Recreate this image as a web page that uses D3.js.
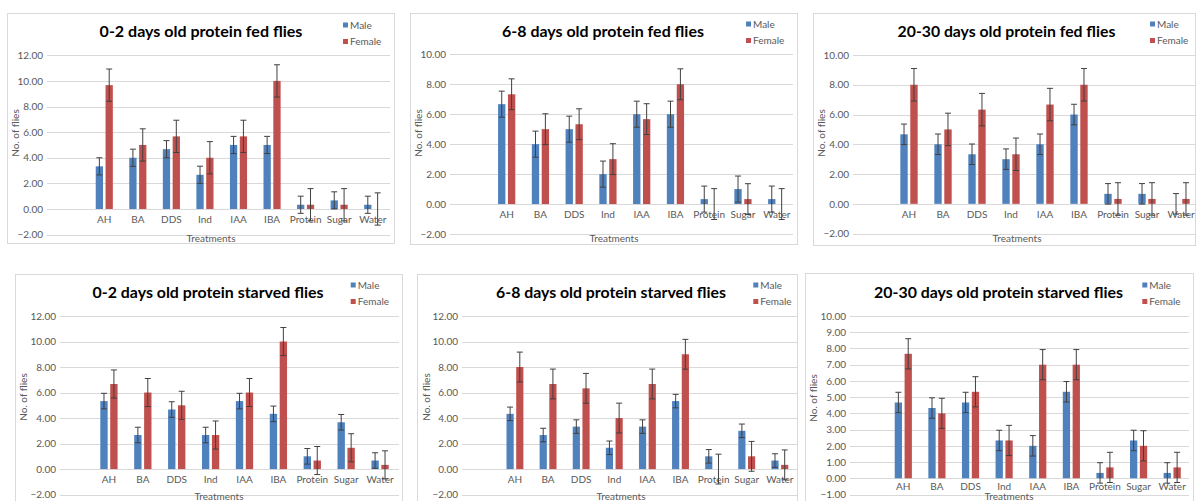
<!DOCTYPE html>
<html>
<head>
<meta charset="utf-8">
<script src="https://cdn.jsdelivr.net/npm/d3@7"></script>
<style>
  html, body { margin: 0; padding: 0; background: #ffffff; }
  svg { display: block; }
</style>
</head>
<body>
<svg id="chart" width="1200" height="501"></svg>
<script>
// ---------------- DATA ----------------
const categories = ["AH", "BA", "DDS", "Ind", "IAA", "IBA", "Protein", "Sugar", "Water"];
const seriesNames = ["Male", "Female"];

const chartTitles = [
  "0-2 days old protein fed flies",
  "6-8 days old protein fed flies",
  "20-30 days old protein fed flies",
  "0-2 days old protein starved flies",
  "6-8 days old protein starved flies",
  "20-30 days old protein starved flies"
];
const yAxisTitle = "No. of flies";
const xAxisTitle = "Treatments";

// y tick values (labels shown with two decimals)
const yTicksTo12 = [-2, 0, 2, 4, 6, 8, 10, 12];
const yTicksTo10 = [-2, 0, 2, 4, 6, 8, 10];
const yTicksBy1 = [-1, 0, 1, 2, 3, 4, 5, 6, 7, 8, 9, 10];

// 0-2 days old protein fed flies
const fed02Male        = [3.33, 4.00, 4.67, 2.67, 5.00, 5.00, 0.33, 0.67, 0.33];
const fed02Female      = [9.67, 5.00, 5.67, 4.00, 5.67, 10.00, 0.33, 0.33, 0.00];
const fed02MaleErr     = [0.67, 0.67, 0.67, 0.67, 0.67, 0.67, 0.67, 0.67, 0.67];
const fed02FemaleErr   = [1.26, 1.26, 1.26, 1.26, 1.26, 1.26, 1.26, 1.26, 1.26];

// 6-8 days old protein fed flies
const fed68Male        = [6.67, 4.00, 5.00, 2.00, 6.00, 6.00, 0.33, 1.00, 0.33];
const fed68Female      = [7.33, 5.00, 5.33, 3.00, 5.67, 8.00, 0.00, 0.33, 0.00];
const fed68MaleErr     = [0.87, 0.87, 0.87, 0.87, 0.87, 0.87, 0.87, 0.87, 0.87];
const fed68FemaleErr   = [1.03, 1.03, 1.03, 1.03, 1.03, 1.03, 1.03, 1.03, 1.03];

// 20-30 days old protein fed flies
const fed2030Male      = [4.67, 4.00, 3.33, 3.00, 4.00, 6.00, 0.67, 0.67, 0.00];
const fed2030Female    = [8.00, 5.00, 6.33, 3.33, 6.67, 8.00, 0.33, 0.33, 0.33];
const fed2030MaleErr   = [0.69, 0.69, 0.69, 0.69, 0.69, 0.69, 0.69, 0.69, 0.69];
const fed2030FemaleErr = [1.09, 1.09, 1.09, 1.09, 1.09, 1.09, 1.09, 1.09, 1.09];

// 0-2 days old protein starved flies
const st02Male         = [5.33, 2.67, 4.67, 2.67, 5.33, 4.33, 1.00, 3.67, 0.67];
const st02Female       = [6.67, 6.00, 5.00, 2.67, 6.00, 10.00, 0.67, 1.67, 0.33];
const st02MaleErr      = [0.61, 0.61, 0.61, 0.61, 0.61, 0.61, 0.61, 0.61, 0.61];
const st02FemaleErr    = [1.10, 1.10, 1.10, 1.10, 1.10, 1.10, 1.10, 1.10, 1.10];

// 6-8 days old protein starved flies
const st68Male         = [4.33, 2.67, 3.33, 1.67, 3.33, 5.33, 1.00, 3.00, 0.67];
const st68Female       = [8.00, 6.67, 6.33, 4.00, 6.67, 9.00, 0.00, 1.00, 0.33];
const st68MaleErr      = [0.53, 0.53, 0.53, 0.53, 0.53, 0.53, 0.53, 0.53, 0.53];
const st68FemaleErr    = [1.17, 1.17, 1.17, 1.17, 1.17, 1.17, 1.17, 1.17, 1.17];

// 20-30 days old protein starved flies
const st2030Male       = [4.67, 4.33, 4.67, 2.33, 2.00, 5.33, 0.33, 2.33, 0.33];
const st2030Female     = [7.67, 4.00, 5.33, 2.33, 7.00, 7.00, 0.67, 2.00, 0.67];
const st2030MaleErr    = [0.63, 0.63, 0.63, 0.63, 0.63, 0.63, 0.63, 0.63, 0.63];
const st2030FemaleErr  = [0.93, 0.93, 0.93, 0.93, 0.93, 0.93, 0.93, 0.93, 0.93];

// ---------------- LAYOUT / STYLE ----------------
const COLORS = { Male: "#4f81bd", Female: "#c0504d" };
const FONT = "Lato, 'Open Sans', 'Liberation Sans', sans-serif";
const TEXT_GRAY = "#595959";
const GRID = "#d9d9d9";
const ERR = "#404040";

const panels = [
  { title: chartTitles[0], male: fed02Male, female: fed02Female, maleErr: fed02MaleErr, femaleErr: fed02FemaleErr,
    ticks: yTicksTo12, frame: [7, 13, 394, 243], grid: [47, 390], xr: [87.5, 389.5], y: [-2, 12, 234.6, 55.3], catPad: 7,
    titleX: 201, titleY: 37, titleW: 203, legX: 343, legY: 25, yTitleX: 19, yTitleY: 133, xTitleX: 211, xTitleY: 242 },
  { title: chartTitles[1], male: fed68Male, female: fed68Female, maleErr: fed68MaleErr, femaleErr: fed68FemaleErr,
    ticks: yTicksTo10, frame: [410, 13, 797, 244], grid: [450, 793], xr: [489.8, 793.6], y: [-2, 10, 234, 54.3], catPad: 7,
    titleX: 603, titleY: 37, titleW: 202, legX: 746, legY: 24, yTitleX: 422, yTitleY: 133, xTitleX: 614, xTitleY: 242 },
  { title: chartTitles[2], male: fed2030Male, female: fed2030Female, maleErr: fed2030MaleErr, femaleErr: fed2030FemaleErr,
    ticks: yTicksTo10, frame: [813, 13, 1195, 245], grid: [853, 1196], xr: [892, 1198], y: [-2, 10, 233.6, 55], catPad: 7,
    titleX: 1006.5, titleY: 37, titleW: 218, legX: 1150, legY: 24, yTitleX: 825, yTitleY: 133, xTitleX: 1017, xTitleY: 242 },
  { title: chartTitles[3], male: st02Male, female: st02Female, maleErr: st02MaleErr, femaleErr: st02FemaleErr,
    ticks: yTicksTo12, frame: [15, 274, 402, 530], grid: [60, 399], xr: [92, 397], y: [-2, 12, 494.6, 316], catPad: 7,
    titleX: 208, titleY: 298, titleW: 231, legX: 350.7, legY: 285, yTitleX: 27, yTitleY: 397, xTitleX: 219, xTitleY: 499.5 },
  { title: chartTitles[4], male: st68Male, female: st68Female, maleErr: st68MaleErr, femaleErr: st68FemaleErr,
    ticks: yTicksTo12, frame: [417, 274, 797, 530], grid: [462, 797], xr: [498.4, 796.4], y: [-2, 12, 494.6, 316], catPad: 7,
    titleX: 611, titleY: 298, titleW: 230, legX: 753.3, legY: 285, yTitleX: 430, yTitleY: 397, xTitleX: 621, xTitleY: 499.5 },
  { title: chartTitles[5], male: st2030Male, female: st2030Female, maleErr: st2030MaleErr, femaleErr: st2030FemaleErr,
    ticks: yTicksBy1, frame: [805, 273, 1193, 530], grid: [850, 1189], xr: [886.5, 1189], y: [-1, 10, 494.5, 316], catPad: 4.5,
    titleX: 998.5, titleY: 298, titleW: 249, legX: 1142.3, legY: 285, yTitleX: 817, yTitleY: 398, xTitleX: 1009, xTitleY: 500 }
];

const svg = d3.select("#chart");

panels.forEach(p => {
  const g = svg.append("g");

  // frame
  g.append("rect")
    .attr("x", p.frame[0] + 0.5).attr("y", p.frame[1] + 0.5)
    .attr("width", p.frame[2] - p.frame[0]).attr("height", p.frame[3] - p.frame[1])
    .attr("fill", "#ffffff").attr("stroke", GRID).attr("stroke-width", 1);

  const y = d3.scaleLinear().domain([p.y[0], p.y[1]]).range([p.y[2], p.y[3]]);
  const x = d3.scaleBand().domain(categories).range(p.xr).paddingInner(0.49).paddingOuter(0.245);
  const xs = d3.scaleBand().domain(seriesNames).range([0, x.bandwidth()]).paddingInner(0.26);

  // gridlines + y labels via axis
  const yAxis = d3.axisLeft(y).tickValues(p.ticks).tickFormat(d3.format(".2f"))
    .tickSize(-(p.grid[1] - p.grid[0])).tickPadding(5);
  const ya = g.append("g").attr("transform", `translate(${p.grid[0]},0)`).call(yAxis);
  ya.select(".domain").remove();
  ya.selectAll(".tick line").attr("stroke", GRID).attr("stroke-width", 1)
    .attr("shape-rendering", "crispEdges");
  ya.selectAll(".tick text").attr("fill", TEXT_GRAY).attr("font-family", FONT).attr("font-size", 10)
    .attr("dx", 1);

  // category labels (just below the zero line)
  const xAxis = d3.axisBottom(x).tickSize(0).tickPadding(p.catPad);
  const xa = g.append("g").attr("transform", `translate(0,${y(0)})`).call(xAxis);
  xa.select(".domain").remove();
  xa.selectAll(".tick text").attr("fill", TEXT_GRAY).attr("font-family", FONT).attr("font-size", 10);

  // bars
  const rows = categories.map((c, i) => ({
    cat: c,
    vals: [
      { s: "Male", v: p.male[i], e: p.maleErr[i] },
      { s: "Female", v: p.female[i], e: p.femaleErr[i] }
    ]
  }));
  const grp = g.selectAll("g.cat").data(rows).join("g").attr("class", "cat")
    .attr("transform", d => `translate(${x(d.cat)},0)`);
  grp.selectAll("rect").data(d => d.vals).join("rect")
    .attr("x", d => xs(d.s)).attr("width", xs.bandwidth())
    .attr("y", d => Math.min(y(d.v), y(0)))
    .attr("height", d => Math.abs(y(0) - y(d.v)))
    .attr("fill", d => COLORS[d.s]);

  // error bars
  const eb = grp.selectAll("g.err").data(d => d.vals).join("g").attr("class", "err")
    .attr("stroke", ERR).attr("stroke-width", 1).attr("fill", "none");
  const cx = d => xs(d.s) + xs.bandwidth() / 2;
  eb.append("line").attr("x1", cx).attr("x2", cx)
    .attr("y1", d => y(d.v - d.e)).attr("y2", d => y(d.v + d.e));
  eb.append("line").attr("x1", d => cx(d) - 3).attr("x2", d => cx(d) + 3)
    .attr("y1", d => y(d.v + d.e)).attr("y2", d => y(d.v + d.e));
  eb.append("line").attr("x1", d => cx(d) - 3).attr("x2", d => cx(d) + 3)
    .attr("y1", d => y(d.v - d.e)).attr("y2", d => y(d.v - d.e));

  // title (fit to measured width)
  const t = g.append("text").attr("x", p.titleX).attr("y", p.titleY)
    .attr("text-anchor", "middle").attr("font-family", FONT).attr("font-weight", "bold")
    .attr("font-size", 17).attr("fill", "#000000").text(p.title);
  const len = t.node().getComputedTextLength();
  t.attr("font-size", (17 * p.titleW / len).toFixed(2));

  // legend
  const leg = g.append("g").attr("transform", `translate(${p.legX},${p.legY})`);
  seriesNames.forEach((s, i) => {
    leg.append("rect").attr("x", 0).attr("y", i * 16.5 - 2.5).attr("width", 5).attr("height", 5)
      .attr("fill", COLORS[s]);
    leg.append("text").attr("x", 7).attr("y", i * 16.5 + 3.5)
      .attr("font-family", FONT).attr("font-size", 10).attr("fill", TEXT_GRAY).text(s);
  });

  // axis titles
  g.append("text")
    .attr("transform", `translate(${p.yTitleX},${p.yTitleY}) rotate(-90)`)
    .attr("text-anchor", "middle").attr("font-family", FONT).attr("font-size", 10)
    .attr("fill", TEXT_GRAY).text(yAxisTitle);
  g.append("text").attr("x", p.xTitleX).attr("y", p.xTitleY)
    .attr("text-anchor", "middle").attr("font-family", FONT).attr("font-size", 10)
    .attr("fill", TEXT_GRAY).text(xAxisTitle);
});
</script>
</body>
</html>
